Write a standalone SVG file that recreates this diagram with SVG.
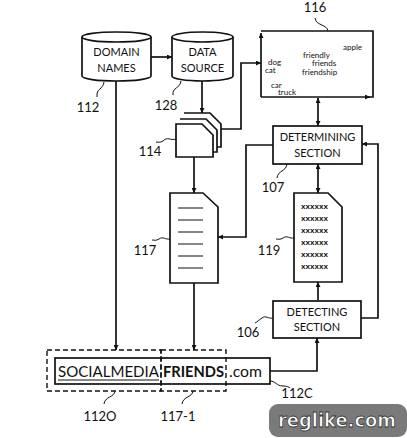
<svg xmlns="http://www.w3.org/2000/svg" width="407" height="438" viewBox="0 0 407 438">
<style>
.s{fill:none;stroke:#111;stroke-width:1.7}
.w{fill:#fff;stroke:#111;stroke-width:1.7}
.t{font-family:Lato,"Open Sans",sans-serif;fill:#111}
.b{font-size:11px;text-anchor:middle}
.l{font-size:13px}
.k{font-size:8px}
.x{font-family:"Liberation Sans",sans-serif;font-size:6.5px;font-weight:bold;fill:#111}
.ld{fill:none;stroke:#111;stroke-width:1}
.d{fill:none;stroke:#111;stroke-width:1.4;stroke-dasharray:5,3}
</style>
<defs>
<marker id="a" viewBox="0 0 10 10" refX="10" refY="5" markerWidth="5" markerHeight="5" orient="auto-start-reverse" markerUnits="userSpaceOnUse"><path d="M0,0 L10,5 L0,10 z" fill="#111"/></marker>
</defs>
<rect width="407" height="438" fill="#fff"/>
<g id="connectors">
<path class="s" d="M151,57 H172" marker-end="url(#a)"/>
<path class="s" d="M202,81 V113" marker-end="url(#a)"/>
<path class="s" d="M221,129 H241 V63 H261" marker-end="url(#a)"/>
<path class="s" d="M194,157 V193" marker-end="url(#a)"/>
<path class="s" d="M116,81 V350" marker-end="url(#a)"/>
<path class="s" d="M194,283 V350" marker-end="url(#a)"/>
<path class="s" d="M318,98 V126" marker-start="url(#a)" marker-end="url(#a)"/>
<path class="s" d="M318,164 V193" marker-start="url(#a)" marker-end="url(#a)"/>
<path class="s" d="M318,300 V282" marker-end="url(#a)"/>
<path class="s" d="M273,145 H246 V237 H218" marker-end="url(#a)"/>
<path class="s" d="M361,318 H378 V144 H362" marker-end="url(#a)"/>
<path class="s" d="M270,371 H317 V338" marker-end="url(#a)"/>
</g>
<g id="domain-names">
<path class="w" d="M82,37 V76 A34.5,5 0 0 0 151,76 V37 A34.5,5 0 0 0 82,37 Z"/>
<path class="s" d="M82,37 A34.5,5 0 0 0 151,37"/>
<text class="t b" x="116.5" y="56">DOMAIN</text>
<text class="t b" x="116.5" y="72">NAMES</text>
<path class="ld" d="M104,82 C103,90 96,88 97,97"/>
<text class="t l" x="88" y="112" text-anchor="middle">112</text>
</g>
<g id="data-source">
<path class="w" d="M172,37 V76 A30.5,5 0 0 0 233,76 V37 A30.5,5 0 0 0 172,37 Z"/>
<path class="s" d="M172,37 A30.5,5 0 0 0 233,37"/>
<text class="t b" x="202.5" y="56">DATA</text>
<text class="t b" x="202.5" y="72">SOURCE</text>
<path class="ld" d="M181,81 C180,89 172,87 173,95"/>
<text class="t l" x="166" y="110" text-anchor="middle">128</text>
</g>
<g id="documents-114">
<path class="w" d="M184,113 H210 L221,124 V147 H217"/>
<path class="w" d="M180,119 H206 L217,130 V152 H213"/>
<path class="w" d="M176,124 H202 L213,135 V157 H176 Z"/>
<path class="ld" d="M176,139 C170,141 168,136 163,141 C160,143 157,142 156,142"/>
<text class="t l" x="150" y="156" text-anchor="middle">114</text>
</g>
<g id="box-116">
<path class="s" d="M261,97 V33" marker-end="url(#a)"/>
<path class="s" d="M261,97 H370" marker-end="url(#a)"/>
<path class="s" d="M261,31 H373 V97 H368"/>
<path class="ld" d="M315,18 C316,26 327,24 328,31"/>
<text class="t l" x="315" y="12" text-anchor="middle">116</text>
<text class="t k" x="343" y="50">apple</text>
<text class="t k" x="303" y="58">friendly</text>
<text class="t k" x="312" y="66">friends</text>
<text class="t k" x="302" y="75">friendship</text>
<text class="t k" x="268" y="65">dog</text>
<text class="t k" x="265" y="73">cat</text>
<text class="t k" x="271" y="88">car</text>
<text class="t k" x="278" y="95">truck</text>
</g>
<g id="determining-section">
<rect class="w" x="273" y="126" width="89" height="38"/>
<text class="t b" x="317.5" y="141">DETERMINING</text>
<text class="t b" x="317.5" y="157">SECTION</text>
<path class="ld" d="M287,164 C286,172 278,170 277,178"/>
<text class="t l" x="273" y="192" text-anchor="middle">107</text>
</g>
<g id="document-117">
<path class="w" d="M170,193 H203 L218,207 V283 H170 Z"/>
<path class="ld" d="M178,208 H203 M178,220 H203 M178,232 H203 M178,244 H203 M178,256 H203 M178,268 H203" style="stroke-width:1.2"/>
<path class="ld" d="M170,239 C166,240 163,236 159,239 C156,241 154,240 152,240"/>
<text class="t l" x="145" y="255" text-anchor="middle">117</text>
</g>
<g id="document-119">
<path class="w" d="M294,193 H328 L342,207 V282 H294 Z"/>
<text class="x" x="301" y="209" textLength="27" lengthAdjust="spacingAndGlyphs">xxxxxx</text>
<text class="x" x="301" y="221" textLength="27" lengthAdjust="spacingAndGlyphs">xxxxxx</text>
<text class="x" x="301" y="233" textLength="27" lengthAdjust="spacingAndGlyphs">xxxxxx</text>
<text class="x" x="301" y="245" textLength="27" lengthAdjust="spacingAndGlyphs">xxxxxx</text>
<text class="x" x="301" y="257" textLength="27" lengthAdjust="spacingAndGlyphs">xxxxxx</text>
<text class="x" x="301" y="269" textLength="27" lengthAdjust="spacingAndGlyphs">xxxxxx</text>
<path class="ld" d="M294,238 C290,239 287,235 283,238 C280,240 278,239 276,239"/>
<text class="t l" x="269" y="255" text-anchor="middle">119</text>
</g>
<g id="detecting-section">
<rect class="w" x="273" y="301" width="88" height="37"/>
<text class="t b" x="317" y="316">DETECTING</text>
<text class="t b" x="317" y="331">SECTION</text>
<path class="ld" d="M273,318 C268,319 266,315 262,318 C259,320 257,322 255,323"/>
<text class="t l" x="248" y="337" text-anchor="middle">106</text>
</g>
<g id="domain-112C">
<rect class="s" x="55" y="358" width="215" height="26"/>
<rect class="d" x="47" y="350" width="114" height="41"/>
<rect class="d" x="161" y="350" width="65" height="41"/>
<text class="t" x="58" y="377" font-size="15.5" textLength="101" lengthAdjust="spacingAndGlyphs">SOCIALMEDIA</text>
<path class="ld" d="M58,380 H159"/>
<text class="t" x="163" y="377" font-size="15.5" font-weight="bold" textLength="61" lengthAdjust="spacingAndGlyphs">FRIENDS</text>
<text class="t" x="229" y="377" font-size="15.5" textLength="33" lengthAdjust="spacingAndGlyphs">.com</text>
<path class="ld" d="M270,381 C276,381 276,386 283,386 C287,386 289,387 290,388"/>
<text class="t l" x="297" y="398" text-anchor="middle">112C</text>
<path class="ld" d="M115,391 C114,398 105,396 104,404"/>
<text class="t l" x="100" y="421" text-anchor="middle">112O</text>
<path class="ld" d="M193,391 C192,398 183,396 182,404"/>
<text class="t l" x="178" y="421" text-anchor="middle">117-1</text>
</g>
<g id="watermark">
<rect x="269" y="404" width="138" height="33" rx="9" fill="#7a7a7a"/>
<text x="278" y="427" font-family="'DejaVu Sans',sans-serif" font-weight="bold" font-size="20" fill="#fff" stroke="#333" stroke-width="0.8" textLength="118" lengthAdjust="spacingAndGlyphs">reglike.com</text>
</g>
</svg>
